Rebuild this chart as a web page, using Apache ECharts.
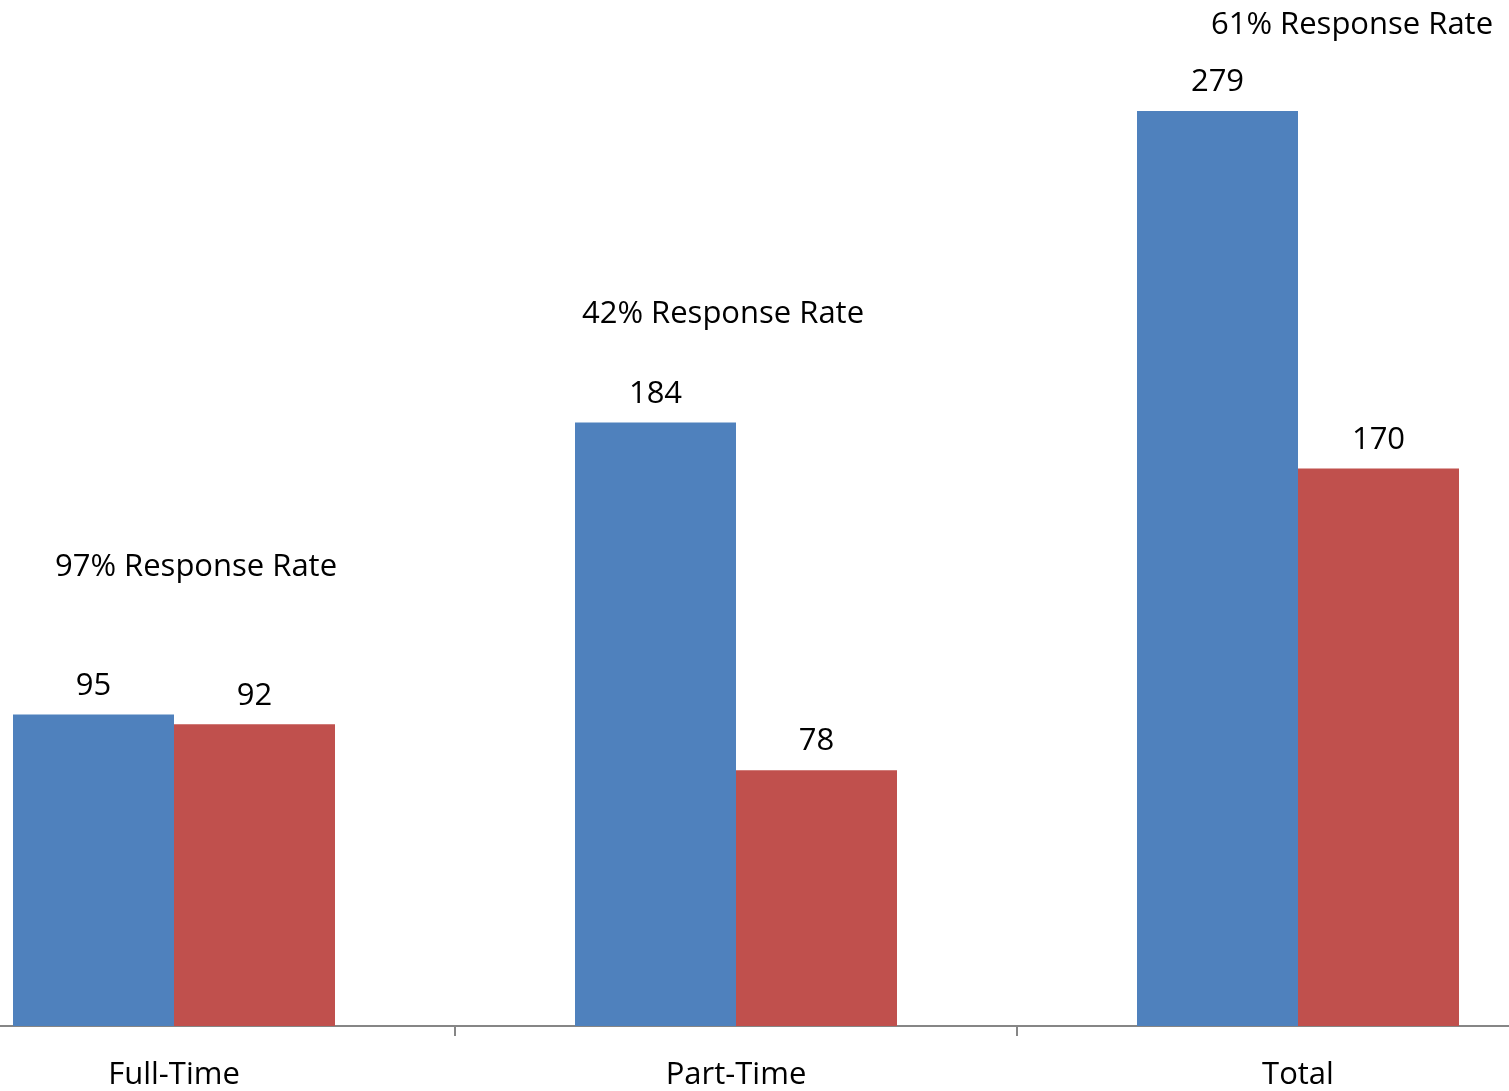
<!DOCTYPE html>
<html>
<head>
<meta charset="utf-8">
<script src="https://cdn.jsdelivr.net/npm/echarts@6/dist/echarts.min.js"></script>
<style>
html,body{margin:0;padding:0;background:#fff;overflow:hidden;width:1509px;height:1091px;}
#chart{width:1686px;height:1091px;margin-left:-107px;}
</style>
</head>
<body>
<div id="chart"></div>
<script>
const categories = ['Full-Time', 'Part-Time', 'Total'];
const seriesA = [95, 184, 279];
const seriesB = [92, 78, 170];
const rateTexts = ['97% Response Rate', '42% Response Rate', '61% Response Rate'];
const rateLevels = [140, 217, 305];

const FONT = 'Open Sans';
const FS = 31;
const chart = echarts.init(document.getElementById('chart'));
const rateOffsets = [[22, 0], [-13, 0], [54, 0]];
chart.setOption({
  animation: false,
  backgroundColor: '#ffffff',
  grid: { left: 0, right: 0, top: 42, bottom: 62, containLabel: false },
  xAxis: {
    type: 'category',
    data: categories,
    axisLine: { show: true, lineStyle: { color: '#868686', width: 2 } },
    axisTick: { show: true, length: 10, lineStyle: { color: '#868686', width: 2 } },
    axisLabel: { color: '#000', fontFamily: FONT, fontSize: FS, margin: 34 }
  },
  yAxis: {
    type: 'value', min: 0, max: 300,
    show: false, splitLine: { show: false }
  },
  series: [
    {
      type: 'bar', data: seriesA, barWidth: 161, barGap: '0%',
      itemStyle: { color: '#4F81BD' },
      label: { show: true, position: 'top', distance: 13, color: '#000', fontFamily: FONT, fontSize: FS }
    },
    {
      type: 'bar', data: seriesB, barWidth: 161,
      itemStyle: { color: '#C0504D' },
      label: { show: true, position: 'top', distance: 13, color: '#000', fontFamily: FONT, fontSize: FS }
    },
    {
      type: 'scatter', symbolSize: 0, clip: false, silent: true,
      itemStyle: { opacity: 1 },
      data: rateLevels.map((v, i) => ({
        value: [categories[i], v],
        label: { offset: rateOffsets[i] }
      })),
      label: {
        show: true, position: 'inside', color: '#000', fontFamily: FONT, fontSize: FS,
        formatter: p => rateTexts[p.dataIndex]
      }
    }
  ]
});
</script>
</body>
</html>
